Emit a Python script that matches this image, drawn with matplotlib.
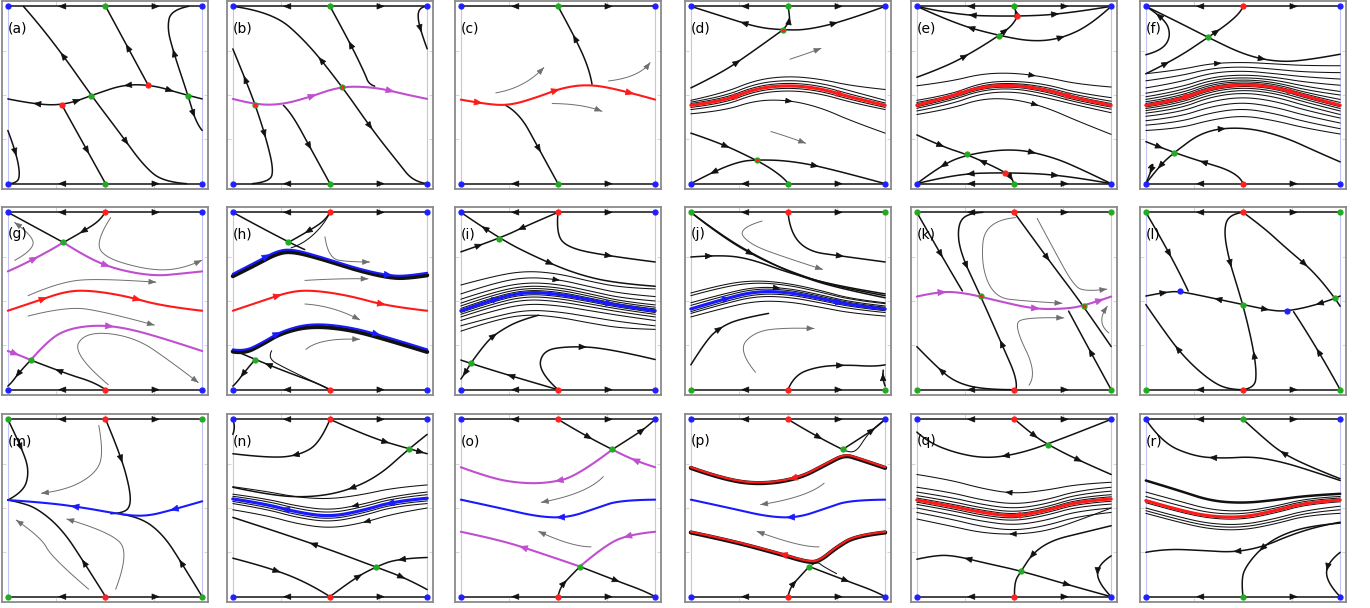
import numpy as np
import matplotlib
matplotlib.use("Agg")
import matplotlib.pyplot as plt
from matplotlib.path import Path
from matplotlib.patches import FancyArrowPatch

# each trajectory: (kind, control points in unit box, arrow spots along arc; minus = pointing backwards)
# kinds: k orbit, kt bundle orbit, k2/K heavy orbit, g hint, m magenta, r/R red, b/B blue
LABELS = list("abcdefghijklmnopqr")
MID_DOT = "gggggrrrrrrrrrrrrg"
CORNER_DOT = "bbbbbbbbbggggbbbbb"

X7 = [0, 1 / 6, 2 / 6, 3 / 6, 4 / 6, 5 / 6, 1]

curves_a = [
    ('k', [(0, 0.478), (0.15, 0.445), (0.3, 0.445), (0.45, 0.505), (0.6, 0.56), (0.75, 0.555), (0.9, 0.505), (1, 0.478)], [-0.14, 0.36, -0.61, 0.84]),
    ('k', [(0.08, 1.0), (0.16, 0.9), (0.3, 0.7), (0.43, 0.497), (0.58, 0.28), (0.7, 0.1), (0.8, 0.01), (0.92, 0.0)], [-0.25, 0.7]),
    ('k', [(0.503, 1.0), (0.723, 0.554)], [-0.5]),
    ('k', [(0.277, 0.446), (0.503, 0.0)], [0.6]),
    ('k', [(0.93, 1.0), (0.84, 0.98), (0.82, 0.88), (0.85, 0.75), (0.927, 0.497), (0.97, 0.34), (1.0, 0.30)], [-0.4, 0.88]),
    ('k', [(0.0, 0.30), (0.045, 0.17), (0.065, 0.03), (0.03, 0.0), (0.0, 0.0)], [0.4]),
]
dots_a = [(0.277, 0.446, 'r'), (0.43, 0.497, 'g'), (0.723, 0.554, 'r'), (0.927, 0.497, 'g')]

curves_b = [
    ('m', [(0, 0.478), (0.11, 0.446), (0.25, 0.445), (0.4, 0.49), (0.5, 0.53), (0.6, 0.55), (0.75, 0.54), (0.9, 0.5), (1, 0.478)], [0.42, 0.82]),
    ('k', [(0, 0.76), (0.06, 0.6), (0.115, 0.446), (0.17, 0.26), (0.21, 0.08), (0.19, 0.01), (0.1, 0.0)], [-0.2, 0.6]),
    ('k', [(0.0, 1.0), (0.2, 0.97), (0.38, 0.8), (0.564, 0.545), (0.72, 0.3), (0.85, 0.12), (0.93, 0.01), (1.0, 0.0)], [-0.38, 0.7]),
    ('k', [(0.5, 1.0), (0.6, 0.8), (0.68, 0.62), (0.7, 0.56), (0.73, 0.55)], [-0.45]),
    ('k', [(0.26, 0.442), (0.3, 0.4), (0.4, 0.2), (0.5, 0.0)], [0.55]),
    ('k', [(1.0, 0.76), (0.96, 0.88), (0.95, 0.97), (0.98, 1.0), (1.0, 1.0)], [-0.4]),
]
dots_b = [(0.115, 0.446, 'rg'), (0.564, 0.545, 'rg')]

curves_c = [
    ('r', [(0, 0.474), (0.12, 0.45), (0.25, 0.44), (0.4, 0.49), (0.52, 0.54), (0.65, 0.56), (0.8, 0.535), (1.0, 0.474)], [0.1, 0.5, 0.88]),
    ('k', [(0.5, 1.0), (0.6, 0.8), (0.665, 0.63), (0.675, 0.56)], [-0.4]),
    ('k', [(0.23, 0.442), (0.3, 0.4), (0.4, 0.2), (0.5, 0.0)], [0.6]),
    ('g', [(0.18, 0.512), (0.33, 0.54), (0.427, 0.655)], [1]),
    ('g', [(0.76, 0.579), (0.92, 0.6), (0.974, 0.683)], [1]),
    ('g', [(0.47, 0.452), (0.63, 0.45), (0.726, 0.408)], [1]),
]
dots_c = []

curves_d = [
    ('k', [(0, 1), (0.2, 0.93), (0.35, 0.88), (0.473, 0.867), (0.6, 0.867), (0.8, 0.92), (1, 1)], [-0.27, 0.74]),
    ('k', [(0.473, 0.867), (0.51, 0.91), (0.505, 0.97), (0.5, 1.0)], [0.5]),
    ('k', [(0, 0.54), (0.15, 0.62), (0.3, 0.73), (0.473, 0.867)], [0.5]),
    ('k', [(0, 0.285), (0.15, 0.23), (0.34, 0.131), (0.42, 0.08), (0.49, 0.02), (0.5, 0.0)], [0.35]),
    ('k', [(0, 0), (0.12, 0.07), (0.25, 0.125), (0.34, 0.135), (0.5, 0.13), (0.7, 0.09), (1, 0.0)], [-0.12, 0.65]),
    ('g', [(0.51, 0.702), (0.59, 0.73), (0.67, 0.763)], [1]),
    ('g', [(0.412, 0.294), (0.5, 0.265), (0.591, 0.228)], [1]),
]
dots_d = [(0.473, 0.867, 'rg'), (0.34, 0.131, 'rg')]
bundle_d = [
    ('kt', [0.47, 0.51, 0.585, 0.607, 0.59, 0.55, 0.531], []),
    ('kt', [0.46, 0.49, 0.565, 0.585, 0.568, 0.52, 0.47], []),
    ('kt', [0.452, 0.478, 0.55, 0.57, 0.552, 0.5, 0.455], []),
    ('kt', [0.43, 0.452, 0.523, 0.542, 0.523, 0.47, 0.43], []),
    ('kt', [0.418, 0.438, 0.508, 0.527, 0.508, 0.455, 0.418], []),
    ('kt', [0.394, 0.41, 0.47, 0.472, 0.43, 0.35, 0.285], [0.5]),
    ('R', [0.442, 0.465, 0.537, 0.556, 0.537, 0.484, 0.442], [-0.2, 0.78]),
]

curves_e = [
    ('k', [(0, 1), (0.2, 0.95), (0.5, 0.943), (0.75, 0.955), (1, 1)], [-0.28, 0.72]),
    ('k', [(0.516, 0.943), (0.51, 0.97), (0.5, 1.0)], [0.5]),
    ('k', [(0, 1), (0.2, 0.9), (0.422, 0.835), (0.6, 0.8), (0.75, 0.82), (0.9, 0.9), (1, 1)], [-0.27, 0.72]),
    ('k', [(0, 0.6), (0.15, 0.66), (0.3, 0.75), (0.422, 0.835), (0.5, 0.9), (0.516, 0.943)], [0.45, 0.85]),
    ('k', [(0, 0.275), (0.13, 0.21), (0.256, 0.165), (0.37, 0.11), (0.456, 0.063), (0.49, 0.03), (0.5, 0.0)], [0.25, -0.62, 0.95]),
    ('k', [(0, 0), (0.12, 0.1), (0.256, 0.165), (0.5, 0.2), (0.7, 0.15), (0.85, 0.08), (1, 0)], [-0.15, 0.6]),
    ('k', [(0, 0), (0.2, 0.055), (0.456, 0.063), (0.75, 0.05), (1, 0)], [-0.27, 0.72]),
]
dots_e = [(0.516, 0.943, 'r'), (0.422, 0.835, 'g'), (0.256, 0.165, 'g'), (0.456, 0.063, 'r')]
bundle_e = [
    ('kt', [0.552, 0.575, 0.62, 0.625, 0.6, 0.56, 0.545], [0.6]),
    ('kt', [0.47, 0.5, 0.57, 0.58, 0.56, 0.51, 0.485], []),
    ('kt', [0.458, 0.49, 0.558, 0.568, 0.545, 0.495, 0.465], []),
    ('kt', [0.45, 0.48, 0.55, 0.562, 0.536, 0.485, 0.452], []),
    ('kt', [0.434, 0.475, 0.538, 0.548, 0.518, 0.465, 0.432], []),
    ('kt', [0.425, 0.465, 0.528, 0.538, 0.505, 0.455, 0.42], []),
    ('kt', [0.41, 0.445, 0.51, 0.52, 0.485, 0.44, 0.4], []),
    ('kt', [0.39, 0.42, 0.48, 0.478, 0.43, 0.35, 0.278], [0.6]),
    ('R', [0.442, 0.49, 0.548, 0.556, 0.53, 0.478, 0.442], [-0.2, 0.8]),
]

curves_f = [
    ('k', [(0, 1), (0.15, 0.92), (0.32, 0.825), (0.5, 0.73), (0.65, 0.69), (0.8, 0.69), (1, 0.73)], [0.63]),
    ('k', [(0, 0.62), (0.15, 0.7), (0.32, 0.825), (0.42, 0.9), (0.49, 0.97), (0.5, 1)], [0.2, 0.7]),
    ('k', [(0, 1), (0.1, 0.93), (0.13, 0.83), (0.08, 0.75), (0, 0.727)], [-0.2]),
    ('k', [(0, 0.237), (0.145, 0.175), (0.3, 0.12), (0.42, 0.08), (0.49, 0.03), (0.5, 0)], [0.15, -0.55]),
    ('k', [(0, 0), (0.07, 0.1), (0.145, 0.175), (0.3, 0.3), (0.5, 0.32), (0.7, 0.27), (0.9, 0.17), (1, 0.123)], [-0.1, 0.45]),
    ('k', [(0, 0), (0.03, 0.08), (0.04, 0.12), (0.015, 0.09)], [-0.5]),
]
dots_f = [(0.32, 0.825, 'g'), (0.145, 0.175, 'g')]
bundle_f = [
    ('kt', [0.62, 0.64, 0.678, 0.685, 0.675, 0.665, 0.665], [0.38]),
    ('kt', [0.58, 0.605, 0.65, 0.66, 0.645, 0.628, 0.626], []),
    ('kt', [0.54, 0.57, 0.625, 0.637, 0.62, 0.6, 0.59], []),
    ('kt', [0.51, 0.54, 0.6, 0.615, 0.6, 0.57, 0.555], []),
    ('kt', [0.49, 0.52, 0.585, 0.6, 0.585, 0.545, 0.52], []),
    ('kt', [0.475, 0.505, 0.57, 0.588, 0.572, 0.525, 0.5], []),
    ('kt', [0.462, 0.49, 0.56, 0.578, 0.562, 0.51, 0.475], []),
    ('kt', [0.452, 0.48, 0.55, 0.57, 0.553, 0.5, 0.458], []),
    ('kt', [0.433, 0.46, 0.53, 0.553, 0.535, 0.48, 0.434], []),
    ('kt', [0.424, 0.45, 0.52, 0.543, 0.523, 0.47, 0.424], []),
    ('kt', [0.412, 0.437, 0.505, 0.53, 0.51, 0.455, 0.41], []),
    ('kt', [0.398, 0.42, 0.49, 0.514, 0.49, 0.435, 0.39], []),
    ('kt', [0.38, 0.4, 0.465, 0.49, 0.465, 0.41, 0.37], []),
    ('kt', [0.355, 0.375, 0.435, 0.46, 0.432, 0.38, 0.342], []),
    ('kt', [0.33, 0.345, 0.4, 0.425, 0.395, 0.345, 0.31], []),
    ('kt', [0.3, 0.31, 0.36, 0.385, 0.355, 0.31, 0.28], []),
    ('R', [0.442, 0.47, 0.54, 0.562, 0.545, 0.49, 0.442], [0.23, 0.76]),
]

curves_g = [
    ('k', [(0, 1), (0.286, 0.83)], []),
    ('m', [(0.286, 0.83), (0.4, 0.75), (0.55, 0.68), (0.75, 0.64), (0.9, 0.655), (1, 0.667)], [0.35]),
    ('m', [(0, 0.667), (0.15, 0.74), (0.286, 0.83)], [0.5]),
    ('k', [(0.286, 0.83), (0.4, 0.9), (0.48, 0.96), (0.5, 1.0)], [-0.4]),
    ('r', [(0, 0.445), (0.15, 0.5), (0.3, 0.555), (0.42, 0.56), (0.6, 0.53), (0.8, 0.47), (1, 0.445)], [0.2, 0.68]),
    ('m', [(0, 0.218), (0.06, 0.195), (0.118, 0.167)], [0.4]),
    ('m', [(0.118, 0.167), (0.2, 0.27), (0.3, 0.34), (0.45, 0.365), (0.6, 0.35), (0.8, 0.29), (1, 0.218)], [0.5]),
    ('k', [(0.118, 0.167), (0.06, 0.1), (0.02, 0.04), (0, 0.02)], [0.6]),
    ('k', [(0.118, 0.167), (0.3, 0.09), (0.45, 0.04), (0.503, 0)], [-0.35]),
    ('g', [(0.035, 0.729), (0.12, 0.78), (0.139, 0.86), (0.035, 0.943)], [1]),
    ('g', [(0.529, 0.97), (0.459, 0.852), (0.485, 0.748), (0.728, 0.672), (0.9, 0.68), (0.997, 0.729)], [1]),
    ('g', [(0.104, 0.53), (0.25, 0.6), (0.45, 0.63), (0.762, 0.606)], [1]),
    ('g', [(0.104, 0.415), (0.3, 0.47), (0.5, 0.44), (0.754, 0.364)], [1]),
    ('g', [(0.517, 0.028), (0.33, 0.2), (0.4, 0.33), (0.65, 0.3), (0.85, 0.15), (0.98, 0.04)], [1]),
]
dots_g = [(0.286, 0.83, 'g'), (0.118, 0.167, 'g')]

curves_h = [
    ('K', [(0, 0.64), (0.12, 0.705), (0.22, 0.765), (0.3, 0.782), (0.45, 0.74), (0.65, 0.67), (0.82, 0.628), (0.92, 0.632), (1, 0.645)], []),
    ('b', [(0, 0.653), (0.12, 0.72), (0.22, 0.78), (0.3, 0.795), (0.45, 0.75), (0.65, 0.68), (0.82, 0.64), (0.92, 0.645), (1, 0.659)], [0.2, 0.82]),
    ('k', [(0, 1), (0.285, 0.83), (0.37, 0.79)], []),
    ('k', [(0.285, 0.83), (0.4, 0.9), (0.48, 0.96), (0.5, 1.0)], [-0.4]),
    ('kt', [(0.5, 1.0), (0.47, 0.93), (0.36, 0.82), (0.3, 0.8)], []),
    ('r', [(0, 0.445), (0.15, 0.5), (0.3, 0.555), (0.42, 0.56), (0.6, 0.53), (0.8, 0.47), (1, 0.445)], [0.25, 0.78]),
    ('K', [(0, 0.215), (0.06, 0.205), (0.15, 0.255), (0.25, 0.32), (0.4, 0.36), (0.6, 0.34), (0.8, 0.28), (1, 0.213)], []),
    ('b', [(0, 0.227), (0.06, 0.217), (0.15, 0.265), (0.25, 0.33), (0.4, 0.375), (0.6, 0.355), (0.8, 0.295), (1, 0.227)], [0.25, 0.75]),
    ('k', [(0, 0.225), (0.115, 0.17), (0.3, 0.09), (0.45, 0.03), (0.5, 0)], [-0.35]),
    ('k', [(0.115, 0.17), (0.06, 0.1), (0.02, 0.04), (0, 0.02)], [0.6]),
    ('kt', [(0.5, 0.0), (0.25, 0.13), (0.18, 0.18), (0.2, 0.22)], []),
    ('g', [(0.474, 0.862), (0.49, 0.74), (0.6, 0.72), (0.704, 0.72)], [1]),
    ('g', [(0.371, 0.616), (0.55, 0.628), (0.696, 0.625)], [1]),
    ('g', [(0.371, 0.483), (0.516, 0.473), (0.653, 0.394)], [1]),
    ('g', [(0.376, 0.227), (0.448, 0.294), (0.653, 0.284)], [1]),
]
dots_h = [(0.285, 0.83, 'g'), (0.115, 0.17, 'g')]

curves_i = [
    ('k', [(0, 1), (0.197, 0.852), (0.4, 0.74), (0.6, 0.65), (0.8, 0.6), (1, 0.583)], [-0.13, 0.5]),
    ('k', [(0, 0.777), (0.197, 0.852), (0.35, 0.93), (0.5, 1.0)], [0.2, -0.6]),
    ('k', [(0.5, 1), (0.49, 0.88), (0.55, 0.8), (0.75, 0.755), (1, 0.72)], [0.65]),
    ('k', [(0.051, 0.148), (0.13, 0.27), (0.2, 0.33), (0.3, 0.39), (0.4, 0.42)], [0.45]),
    ('k', [(0.051, 0.148), (0.02, 0.09), (0, 0.06)], [0.7]),
    ('k', [(0, 0.167), (0.051, 0.148), (0.25, 0.08), (0.5, 0.0)], [-0.5]),
    ('k', [(0.5, 0), (0.4, 0.1), (0.42, 0.22), (0.55, 0.245), (0.75, 0.235), (1, 0.17)], [0.55]),
]
dots_i = [(0.197, 0.852, 'g'), (0.051, 0.148, 'g')]
bundle_i = [
    ('kt', [0.59, 0.64, 0.67, 0.655, 0.61, 0.575, 0.568], []),
    ('kt', [0.54, 0.6, 0.635, 0.622, 0.58, 0.54, 0.525], [0.5]),
    ('kt', [0.51, 0.57, 0.605, 0.595, 0.556, 0.515, 0.5], []),
    ('kt', [0.488, 0.55, 0.587, 0.577, 0.54, 0.497, 0.478], []),
    ('kt', [0.472, 0.535, 0.574, 0.564, 0.527, 0.486, 0.465], []),
    ('kt', [0.458, 0.522, 0.563, 0.552, 0.516, 0.477, 0.455], []),
    ('kt', [0.435, 0.498, 0.54, 0.528, 0.495, 0.46, 0.435], []),
    ('kt', [0.425, 0.485, 0.527, 0.515, 0.483, 0.45, 0.425], []),
    ('kt', [0.41, 0.47, 0.51, 0.498, 0.467, 0.435, 0.41], []),
    ('kt', [0.39, 0.445, 0.485, 0.475, 0.445, 0.415, 0.39], []),
    ('kt', [0.36, 0.41, 0.45, 0.44, 0.41, 0.38, 0.36], []),
    ('kt', [0.33, 0.39, 0.425, 0.41, 0.375, 0.345, 0.34], []),
    ('B', [0.445, 0.51, 0.552, 0.54, 0.506, 0.47, 0.445], [0.2, 0.78]),
]

curves_j = [
    ('k', [(0, 1), (0.15, 0.87), (0.35, 0.74), (0.55, 0.65), (0.75, 0.58), (1, 0.53)], [0.35]),
    ('k', [(0, 1), (0.17, 0.86), (0.37, 0.735), (0.56, 0.64), (0.76, 0.572), (1, 0.518)], []),
    ('k', [(0, 0.748), (0.15, 0.76), (0.3, 0.74), (0.5, 0.66), (0.75, 0.585), (1, 0.54)], [0.1]),
    ('k', [(0.5, 1), (0.51, 0.89), (0.6, 0.78), (0.77, 0.754), (1, 0.72)], [0.65]),
    ('k', [(0, 0.14), (0.08, 0.28), (0.15, 0.35), (0.25, 0.4), (0.4, 0.43)], [0.5]),
    ('k', [(0.5, 0), (0.53, 0.08), (0.65, 0.13), (0.8, 0.14), (0.95, 0.13), (1, 0.14)], [0.6]),
    ('k', [(1, 0.02), (0.985, 0.06), (0.99, 0.11)], [0.7]),
    ('g', [(0.367, 0.951), (0.24, 0.91), (0.3, 0.82), (0.5, 0.74), (0.678, 0.678)], [1]),
    ('g', [(0.333, 0.098), (0.24, 0.22), (0.33, 0.33), (0.5, 0.35), (0.634, 0.345)], [1]),
]
dots_j = []
bundle_j = [
    ('kt', [0.545, 0.595, 0.617, 0.6, 0.56, 0.51, 0.49], []),
    ('kt', [0.53, 0.58, 0.605, 0.59, 0.55, 0.505, 0.485], []),
    ('kt', [0.49, 0.54, 0.58, 0.572, 0.535, 0.492, 0.472], [0.45]),
    ('kt', [0.475, 0.528, 0.57, 0.563, 0.527, 0.485, 0.465], []),
    ('kt', [0.44, 0.495, 0.54, 0.537, 0.503, 0.465, 0.445], []),
    ('kt', [0.43, 0.483, 0.527, 0.523, 0.49, 0.453, 0.435], []),
    ('kt', [0.41, 0.46, 0.5, 0.497, 0.465, 0.43, 0.415], []),
    ('B', [0.455, 0.51, 0.555, 0.55, 0.515, 0.475, 0.455], [0.2, 0.78]),
]

curves_k = [
    ('m', [(0, 0.525), (0.12, 0.555), (0.25, 0.545), (0.4, 0.505), (0.6, 0.455), (0.75, 0.455), (0.858, 0.471), (1, 0.525)], [0.14, 0.62, 0.95]),
    ('k', [(0, 1), (0.14, 0.73), (0.234, 0.557)], [0.55]),
    ('k', [(0.51, 0.0), (0.52, 0.05), (0.44, 0.25), (0.328, 0.528), (0.22, 0.78), (0.21, 0.93), (0.26, 0.995), (0.34, 1.0)], [0.25, -0.65]),
    ('k', [(0.5, 1), (0.6, 0.85), (0.7, 0.7), (0.858, 0.471), (1, 0.243)], [0.35]),
    ('k', [(1, 0), (0.9, 0.2), (0.781, 0.443)], [0.5]),
    ('k', [(0, 0.243), (0.1, 0.13), (0.2, 0.04), (0.35, 0.0), (0.5, 0.0)], [-0.3]),
    ('g', [(0.508, 0.97), (0.35, 0.955), (0.33, 0.7), (0.4, 0.52), (0.55, 0.5), (0.747, 0.487)], [1]),
    ('g', [(0.619, 0.966), (0.7, 0.8), (0.8, 0.6), (0.86, 0.55), (0.978, 0.567)], [1]),
    ('g', [(0.577, 0.025), (0.62, 0.09), (0.5, 0.36), (0.55, 0.41), (0.756, 0.405)], [1]),
    ('g', [(0.988, 0.32), (0.92, 0.38), (0.98, 0.47)], [1]),
]
dots_k = [(0.328, 0.528, 'rg'), (0.858, 0.471, 'rg')]

curves_l = [
    ('k', [(0, 0.528), (0.1, 0.55), (0.175, 0.555), (0.35, 0.515), (0.5, 0.48), (0.65, 0.445), (0.728, 0.443), (0.85, 0.47), (0.975, 0.515), (1, 0.528)], [0.1, -0.36, 0.62, -0.88]),
    ('k', [(0, 1), (0.14, 0.74), (0.218, 0.556)], [0.55]),
    ('k', [(0.5, 0), (0.56, 0.01), (0.57, 0.1), (0.55, 0.25), (0.5, 0.48), (0.43, 0.72), (0.4, 0.9), (0.43, 0.99), (0.5, 1.0)], [0.22, -0.68]),
    ('k', [(0.5, 1), (0.6, 0.92), (0.72, 0.8), (0.86, 0.67), (0.975, 0.515), (1, 0.47)], [0.6]),
    ('k', [(0, 0.48), (0.1, 0.32), (0.2, 0.18), (0.32, 0.06), (0.42, 0.0), (0.5, 0.0)], [-0.4]),
    ('k', [(1, 0), (0.88, 0.24), (0.76, 0.44)], [0.5]),
]
dots_l = [(0.175, 0.555, 'b'), (0.5, 0.48, 'g'), (0.728, 0.443, 'b'), (0.975, 0.515, 'g')]

curves_m = [
    ('b', [(0, 0.545), (0.2, 0.53), (0.4, 0.5), (0.55, 0.47), (0.7, 0.45), (0.85, 0.49), (1, 0.538)], [-0.33, -0.84]),
    ('k', [(0, 1), (0.08, 0.82), (0.11, 0.7), (0.08, 0.59), (0, 0.545)], [0.35]),
    ('k', [(0.503, 1), (0.58, 0.8), (0.63, 0.6), (0.63, 0.5), (0.58, 0.47), (0.53, 0.468)], [0.4]),
    ('k', [(0.503, 0), (0.4, 0.18), (0.28, 0.38), (0.15, 0.5), (0.05, 0.535), (0, 0.545)], [0.3]),
    ('k', [(1, 0), (0.9, 0.18), (0.8, 0.35), (0.68, 0.45), (0.58, 0.465)], [0.35]),
    ('g', [(0.468, 0.966), (0.494, 0.806), (0.45, 0.692), (0.3, 0.6), (0.173, 0.583)], [1]),
    ('g', [(0.416, 0.042), (0.225, 0.221), (0.173, 0.334), (0.043, 0.432)], [1]),
    ('g', [(0.555, 0.042), (0.624, 0.24), (0.537, 0.362), (0.303, 0.438)], [1]),
]
dots_m = []

curves_n = [
    ('k', [(0.5, 1), (0.45, 0.87), (0.35, 0.8), (0.2, 0.78), (0, 0.806)], [0.48]),
    ('k', [(0.5, 1), (0.7, 0.9), (0.906, 0.834), (1, 0.806)], [0.6, 0.95]),
    ('k', [(1, 0.915), (0.906, 0.834), (0.75, 0.68), (0.58, 0.594), (0.4, 0.56), (0.2, 0.57), (0, 0.617)], [0.45]),
    ('k', [(0, 0.447), (0.4, 0.305), (0.735, 0.168), (0.9, 0.1), (1, 0.04)], [-0.4, 0.87]),
    ('k', [(0, 0.217), (0.2, 0.16), (0.4, 0.07), (0.5, 0.0)], [0.45]),
    ('k', [(0.5, 0), (0.62, 0.1), (0.735, 0.168), (0.85, 0.215), (1, 0.221)], [0.35, -0.75]),
    ('k', [(0, 0.995), (0.015, 0.96), (0, 0.915)], []),
]
dots_n = [(0.906, 0.834, 'g'), (0.735, 0.168, 'g')]
bundle_n = [
    ('kt', [0.62, 0.595, 0.56, 0.55, 0.575, 0.615, 0.63], []),
    ('kt', [0.578, 0.553, 0.51, 0.487, 0.52, 0.57, 0.59], [-0.62]),
    ('kt', [0.566, 0.541, 0.495, 0.47, 0.505, 0.557, 0.575], []),
    ('kt', [0.537, 0.508, 0.46, 0.435, 0.47, 0.524, 0.54], []),
    ('kt', [0.525, 0.495, 0.445, 0.42, 0.455, 0.51, 0.525], []),
    ('kt', [0.49, 0.46, 0.41, 0.385, 0.415, 0.47, 0.5], [-0.68]),
    ('B', [0.551, 0.523, 0.475, 0.45, 0.485, 0.538, 0.555], [-0.26, -0.8]),
]

curves_o = [
    ('k', [(0.5, 1), (0.65, 0.9), (0.78, 0.83)], [0.6]),
    ('m', [(0.78, 0.83), (0.88, 0.77), (1, 0.73)], [-0.5]),
    ('k', [(1, 1), (0.95, 0.95), (0.88, 0.9), (0.78, 0.83)], [-0.3]),
    ('m', [(0.78, 0.83), (0.6, 0.68), (0.45, 0.64), (0.3, 0.64), (0.15, 0.67), (0, 0.73)], [0.4]),
    ('b', [(0, 0.547), (0.2, 0.5), (0.4, 0.45), (0.55, 0.445), (0.7, 0.5), (0.82, 0.545), (1, 0.547)], [-0.5]),
    ('m', [(0, 0.366), (0.2, 0.32), (0.4, 0.25), (0.613, 0.17)], [-0.5]),
    ('m', [(0.613, 0.17), (0.72, 0.27), (0.85, 0.35), (1, 0.366)], [-0.65]),
    ('k', [(0.613, 0.17), (0.8, 0.09), (0.95, 0.03), (1, 0.0)], [0.5]),
    ('k', [(0.5, 0), (0.51, 0.05), (0.55, 0.1), (0.613, 0.17)], [0.45]),
    ('g', [(0.733, 0.677), (0.65, 0.58), (0.414, 0.532)], [1]),
    ('g', [(0.67, 0.281), (0.57, 0.281), (0.4, 0.368)], [1]),
]
dots_o = [(0.78, 0.83, 'g'), (0.613, 0.17, 'g')]

curves_p = [
    ('k', [(0.5, 1), (0.65, 0.9), (0.781, 0.83)], [0.6]),
    ('k', [(1, 1), (0.95, 0.95), (0.88, 0.9), (0.781, 0.83)], [-0.3]),
    ('K', [(0, 0.726), (0.15, 0.668), (0.341, 0.632), (0.55, 0.663), (0.7, 0.748), (0.79, 0.8), (0.86, 0.778), (1, 0.726)], []),
    ('r', [(0, 0.73), (0.15, 0.672), (0.341, 0.636), (0.55, 0.667), (0.7, 0.752), (0.79, 0.805), (0.86, 0.783), (1, 0.73)], [-0.5]),
    ('kt', [(0.781, 0.83), (0.82, 0.81), (0.86, 0.83), (0.9, 0.9), (0.95, 0.96), (1, 1)], []),
    ('b', [(0, 0.547), (0.2, 0.5), (0.4, 0.45), (0.55, 0.445), (0.7, 0.5), (0.82, 0.545), (1, 0.547)], [-0.5]),
    ('K', [(0, 0.362), (0.2, 0.316), (0.45, 0.243), (0.6, 0.194), (0.66, 0.198), (0.75, 0.278), (0.85, 0.343), (1, 0.362)], []),
    ('r', [(0, 0.366), (0.2, 0.32), (0.45, 0.247), (0.6, 0.198), (0.66, 0.202), (0.75, 0.282), (0.85, 0.347), (1, 0.366)], [-0.45]),
    ('k', [(0.609, 0.17), (0.8, 0.09), (0.95, 0.03), (1, 0.0)], [0.5]),
    ('k', [(0.5, 0), (0.51, 0.05), (0.55, 0.1), (0.609, 0.17)], [0.45]),
    ('kt', [(0.609, 0.17), (0.65, 0.2), (0.68, 0.17), (0.75, 0.13)], []),
    ('g', [(0.686, 0.64), (0.6, 0.56), (0.359, 0.519)], [1]),
    ('g', [(0.66, 0.281), (0.566, 0.277), (0.341, 0.368)], [1]),
]
dots_p = [(0.781, 0.83, 'g'), (0.609, 0.17, 'g')]

curves_q = [
    ('k', [(0.503, 1), (0.6, 0.91), (0.674, 0.858), (0.82, 0.775), (1, 0.689)], [0.25, 0.7]),
    ('k', [(1, 1), (0.674, 0.858), (0.5, 0.8), (0.35, 0.78), (0.2, 0.81), (0.06, 0.87), (0, 0.928)], [0.55]),
    ('k', [(0, 0.211), (0.1, 0.235), (0.2, 0.23), (0.35, 0.19), (0.537, 0.145), (0.8, 0.06), (1, 0.0)], [-0.25, 0.78]),
    ('k', [(0.503, 0), (0.5, 0.08), (0.537, 0.145), (0.6, 0.25), (0.7, 0.32), (0.85, 0.36), (1, 0.4)], [-0.35]),
    ('k', [(1, 0.23), (0.93, 0.18), (0.93, 0.08), (1, 0.0)], [0.45]),
]
dots_q = [(0.674, 0.858, 'g'), (0.537, 0.145, 'g')]
bundle_q = [
    ('kt', [0.689, 0.66, 0.61, 0.58, 0.6, 0.635, 0.645], [-0.47]),
    ('kt', [0.617, 0.59, 0.545, 0.52, 0.545, 0.6, 0.617], []),
    ('kt', [0.59, 0.562, 0.52, 0.495, 0.523, 0.58, 0.595], []),
    ('kt', [0.57, 0.54, 0.5, 0.475, 0.505, 0.562, 0.575], []),
    ('kt', [0.556, 0.525, 0.487, 0.462, 0.494, 0.55, 0.563], []),
    ('kt', [0.533, 0.5, 0.46, 0.438, 0.472, 0.525, 0.538], []),
    ('kt', [0.52, 0.488, 0.448, 0.425, 0.458, 0.51, 0.522], []),
    ('kt', [0.5, 0.465, 0.425, 0.402, 0.43, 0.485, 0.5], []),
    ('kt', [0.475, 0.44, 0.395, 0.372, 0.4, 0.455, 0.475], []),
    ('kt', [0.438, 0.4, 0.36, 0.35, 0.37, 0.43, 0.5], [-0.48]),
    ('R', [0.545, 0.513, 0.475, 0.451, 0.485, 0.538, 0.551], [-0.5]),
]

curves_r = [
    ('k', [(0, 1), (0.08, 0.87), (0.25, 0.79), (0.4, 0.78), (0.55, 0.79), (0.7, 0.76), (0.85, 0.71), (1, 0.655)], [-0.38]),
    ('k', [(0.5, 1), (0.6, 0.9), (0.7, 0.81), (0.85, 0.73), (1, 0.665)], [-0.45]),
    ('k', [(0, 0.25), (0.1, 0.27), (0.3, 0.26), (0.45, 0.25), (0.6, 0.28), (0.75, 0.35), (0.9, 0.4), (1, 0.42)], [-0.45]),
    ('k', [(0.5, 0), (0.49, 0.1), (0.52, 0.18), (0.6, 0.28), (0.7, 0.35), (0.85, 0.4), (1, 0.415)], [-0.4]),
    ('k', [(1, 0.25), (0.93, 0.19), (0.93, 0.08), (1, 0.0)], [0.4]),
]
dots_r = []
bundle_r = [
    ('k2', [0.655, 0.6, 0.54, 0.527, 0.545, 0.57, 0.58], []),
    ('kt', [0.59, 0.54, 0.49, 0.48, 0.51, 0.555, 0.565], []),
    ('kt', [0.565, 0.515, 0.47, 0.465, 0.498, 0.545, 0.556], []),
    ('kt', [0.53, 0.478, 0.44, 0.435, 0.472, 0.522, 0.535], []),
    ('kt', [0.5, 0.45, 0.41, 0.405, 0.44, 0.49, 0.51], []),
    ('kt', [0.485, 0.435, 0.395, 0.39, 0.425, 0.475, 0.49], []),
    ('kt', [0.47, 0.42, 0.38, 0.375, 0.41, 0.46, 0.47], []),
    ('R', [0.542, 0.489, 0.451, 0.447, 0.485, 0.532, 0.545], []),
]

PANELS = {
    'a': (curves_a, [], dots_a), 'b': (curves_b, [], dots_b), 'c': (curves_c, [], dots_c),
    'd': (curves_d, bundle_d, dots_d), 'e': (curves_e, bundle_e, dots_e), 'f': (curves_f, bundle_f, dots_f),
    'g': (curves_g, [], dots_g), 'h': (curves_h, [], dots_h), 'i': (curves_i, bundle_i, dots_i),
    'j': (curves_j, bundle_j, dots_j), 'k': (curves_k, [], dots_k), 'l': (curves_l, [], dots_l),
    'm': (curves_m, [], dots_m), 'n': (curves_n, bundle_n, dots_n), 'o': (curves_o, [], dots_o),
    'p': (curves_p, [], dots_p), 'q': (curves_q, bundle_q, dots_q), 'r': (curves_r, bundle_r, dots_r),
}

STYLES = {
    'k': ('#111111', 1.1, 3, 9),
    'kt': ('#111111', 0.75, 2, 8),
    'k2': ('#111111', 1.8, 2, 9),
    'K': ('#111111', 3.0, 3, 9),
    'g': ('#6e6e6e', 0.7, 2, 8),
    'm': ('#c04fd0', 1.5, 4, 10),
    'r': ('#ff1a1a', 1.5, 4, 10),
    'R': ('#ff1a1a', 2.3, 4, 10),
    'b': ('#1a1aff', 1.5, 4, 10),
    'B': ('#1a1aff', 2.3, 4, 10),
}
DOT_COLORS = {'r': '#ff2020', 'g': '#22aa22', 'b': '#2020ff'}


def smooth(pts):
    pts = np.asarray(pts, float)
    if len(pts) == 2:
        return pts
    verts = [pts[0]]
    codes = [Path.MOVETO]
    for i in range(1, len(pts) - 2):
        verts += [pts[i], (pts[i] + pts[i + 1]) / 2]
        codes += [Path.CURVE3, Path.CURVE3]
    verts += [pts[-2], pts[-1]]
    codes += [Path.CURVE3, Path.CURVE3]
    path = Path(verts, codes)
    out = [seg(np.linspace(0, 1, 20)) for seg, code in path.iter_bezier() if code != Path.MOVETO]
    return np.vstack(out)


def add_arrow(ax, line, t, color, head, z):
    seg = np.diff(line, axis=0)
    d = np.hypot(seg[:, 0], seg[:, 1])
    keep = d > 1e-9
    seg, d, start = seg[keep], d[keep], line[:-1][keep]
    s = np.concatenate([[0.0], np.cumsum(d)])
    target = min(abs(t), 1.0) * s[-1]
    i = int(np.clip(np.searchsorted(s, target) - 1, 0, len(d) - 1))
    u = seg[i] / d[i]
    p = start[i] + u * (target - s[i])
    if t < 0:
        u = -u
    if abs(t) >= 1:
        tail, tip = p - 0.02 * u, p
    else:
        tail, tip = p - 0.012 * u, p + 0.012 * u
    ax.add_patch(FancyArrowPatch(tail, tip, arrowstyle='-|>,head_length=0.55,head_width=0.22',
                                 mutation_scale=head, color=color, lw=0.5,
                                 shrinkA=0, shrinkB=0, zorder=z + 0.5))


def draw_curve(ax, kind, pts, arrows):
    color, lw, z, head = STYLES[kind]
    line = smooth(pts)
    ax.plot(line[:, 0], line[:, 1], color=color, lw=lw, zorder=z, solid_capstyle='round')
    for t in arrows:
        add_arrow(ax, line, t, color, head, z)


def draw_dot(ax, x, y, code):
    face = DOT_COLORS[code[0]]
    edge = DOT_COLORS[code[-1]]
    ax.plot(x, y, 'o', ms=3.6, mfc=face, mec=edge, mew=0.9, zorder=8)


W, H = 1370, 608
LEFTS = [2, 227, 455, 685, 911, 1140]
TOPS = [1, 207, 414]
PW, PH = 206, 188

fig = plt.figure(figsize=(W / 100, H / 100), dpi=100)

for idx, lab in enumerate(LABELS):
    row, col = divmod(idx, 6)
    ax = fig.add_axes([LEFTS[col] / W, 1 - (TOPS[row] + PH) / H, PW / W, PH / H])
    ax.set_xlim(-0.03, 1.03)
    ax.set_ylim(-0.03, 1.03)
    for sp in ax.spines.values():
        sp.set_color('#8a8a8a')
        sp.set_linewidth(1.3)
    ax.set_xticks([0.25, 0.5, 0.75])
    ax.set_yticks([0.25, 0.5, 0.75])
    ax.tick_params(direction='in', length=3, width=0.6, color='#cfcfcf',
                   labelbottom=False, labelleft=False, top=True, right=True)

    # side walls and invariant top/bottom edges
    ax.plot([0, 0], [0, 1], color='#c4c4f4', lw=0.8, zorder=1)
    ax.plot([1, 1], [0, 1], color='#c4c4f4', lw=0.8, zorder=1)
    for yb in (0, 1):
        draw_curve(ax, 'k', [(0, yb), (1, yb)], [-0.27, 0.77])

    curves, bundle, dots = PANELS[lab]
    for kind, ys, arrows in bundle:
        draw_curve(ax, kind, list(zip(X7, ys)), arrows)
    for kind, pts, arrows in curves:
        draw_curve(ax, kind, pts, arrows)

    for x, y, code in dots:
        draw_dot(ax, x, y, code)
    for x in (0, 1):
        for y in (0, 1):
            draw_dot(ax, x, y, CORNER_DOT[idx])
        draw_dot(ax, 0.5, x, MID_DOT[idx])

    ax.text(0.0, 0.875, f"({lab})", fontsize=10, ha='left', va='center', zorder=9)

fig.savefig("out.png", dpi=100)
